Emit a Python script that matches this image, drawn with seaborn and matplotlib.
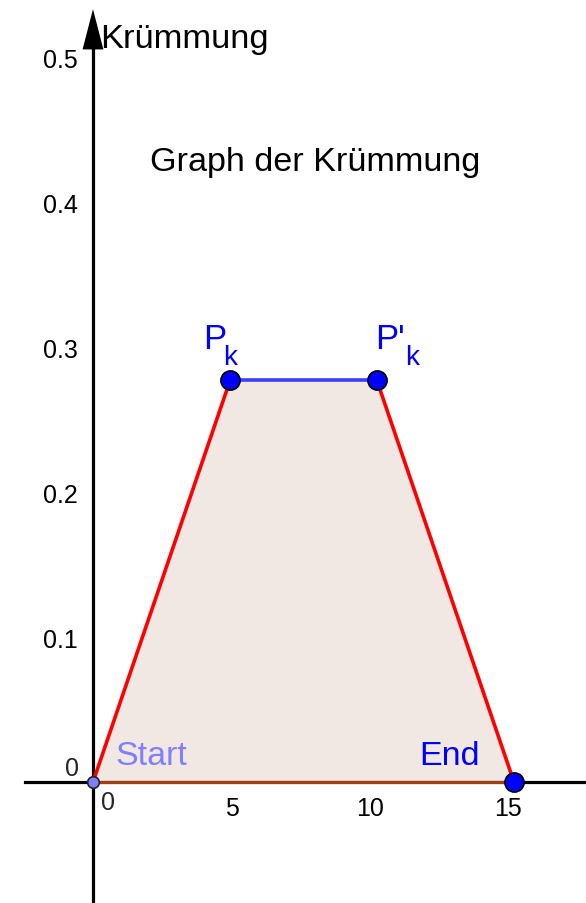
import matplotlib
matplotlib.use("Agg")
import matplotlib.pyplot as plt
import seaborn as sns
import pandas as pd

# ---- data ----
point_names = ["Start", "P_k", "P'_k", "End"]
x_vals = [0.0, 4.95, 10.25, 15.2]
y_vals = [0.0, 0.277, 0.277, 0.0]
x_ticks = [5, 10, 15]
x_tick_labels = ["5", "10", "15"]
y_ticks = [0.1, 0.2, 0.3, 0.4, 0.5]
y_tick_labels = ["0.1", "0.2", "0.3", "0.4", "0.5"]
title_text = "Graph der Krümmung"
y_label_text = "Krümmung"

sns.set_theme(style="white")
plt.rcParams["font.family"] = ["Liberation Sans", "DejaVu Sans"]

W, H = 586, 904
fig = plt.figure(figsize=(W / 100, H / 100), dpi=100)
ax = fig.add_axes([0, 0, 1, 1])
ax.set_xlim(-3.357, 17.80)
ax.set_ylim(-0.0834, 0.540)
ax.set_facecolor("white")

df = pd.DataFrame({"name": point_names, "x": x_vals, "y": y_vals})

# filled polygon
ax.fill(df["x"], df["y"], color="#F2E8E3", zorder=1, lw=0)

# axes lines
for s in ["top", "right"]:
    ax.spines[s].set_visible(False)
ax.spines["left"].set_position(("data", 0))
ax.spines["bottom"].set_position(("data", 0))
ax.spines["left"].set_bounds(-0.0834, 0.51)
ax.spines["bottom"].set_bounds(-2.45, 17.80)
for s in ["left", "bottom"]:
    ax.spines[s].set_linewidth(2.3)
    ax.spines[s].set_color("black")
    ax.spines[s].set_zorder(2)

ax.annotate("", xy=(0, 0.533), xytext=(0, 0.505),
            arrowprops=dict(arrowstyle="-|>,head_length=2.9,head_width=0.75",
                            mutation_scale=10, color="black", lw=0,
                            shrinkA=0, shrinkB=0), zorder=3)

ax.set_xticks(x_ticks, x_tick_labels)
ax.set_yticks(y_ticks, y_tick_labels)
ax.tick_params(axis="both", direction="out", length=4, width=2, color="black",
               labelsize=18, labelcolor="black")
ax.tick_params(axis="x", pad=6)
ax.tick_params(axis="y", pad=7)
ax.grid(False)

# zero labels
ax.text(108 / W, 1 - 803 / H, "0", transform=ax.transAxes, fontsize=18,
        ha="center", va="center")
ax.text(72 / W, 1 - 769 / H, "0", transform=ax.transAxes, fontsize=18,
        ha="center", va="center")

# segments
seg_bottom = df.iloc[[0, 3]]
seg_left = df.iloc[[0, 1]]
seg_top = df.iloc[[1, 2]]
seg_right = df.iloc[[2, 3]]
sns.lineplot(data=seg_bottom, x="x", y="y", sort=False, color="#A04010", lw=2.2, ax=ax, zorder=4)
sns.lineplot(data=seg_left, x="x", y="y", sort=False, color="#FF0000", lw=2.6, ax=ax, zorder=4)
sns.lineplot(data=seg_right, x="x", y="y", sort=False, color="#FF0000", lw=2.6, ax=ax, zorder=4)
sns.lineplot(data=seg_top, x="x", y="y", sort=False, color="#3D3DFF", lw=2.6, ax=ax, zorder=4)

# points
sns.scatterplot(data=df.iloc[[0]], x="x", y="y", color="#7F7FFF", edgecolor="#222222",
                s=70, linewidth=1.2, ax=ax, zorder=5)
sns.scatterplot(data=df.iloc[1:], x="x", y="y", color="#0000FF", edgecolor="black",
                s=190, linewidth=1.2, ax=ax, zorder=5)
ax.set_xlabel("")
ax.set_ylabel("")

# point labels
ax.annotate("P", xy=(x_vals[1], y_vals[1]), xytext=(-27, 32), textcoords="offset pixels",
            fontsize=25, color="#0000FF", ha="left", va="baseline")
ax.annotate("k", xy=(x_vals[1], y_vals[1]), xytext=(-7, 16), textcoords="offset pixels",
            fontsize=20, color="#0000FF", ha="left", va="baseline")
ax.annotate("P'", xy=(x_vals[2], y_vals[2]), xytext=(-2, 32), textcoords="offset pixels",
            fontsize=25, color="#0000FF", ha="left", va="baseline")
ax.annotate("k", xy=(x_vals[2], y_vals[2]), xytext=(28, 16), textcoords="offset pixels",
            fontsize=20, color="#0000FF", ha="left", va="baseline")
ax.annotate("Start", xy=(x_vals[0], y_vals[0]), xytext=(22, 18), textcoords="offset pixels",
            fontsize=24.5, color="#7F7FFF", ha="left", va="baseline")
ax.annotate("End", xy=(x_vals[3], y_vals[3]), xytext=(-95, 18), textcoords="offset pixels",
            fontsize=24.5, color="#0000FF", ha="left", va="baseline")

# texts
ax.text(100 / W, 1 - 48 / H, y_label_text, transform=ax.transAxes, fontsize=24.8,
        ha="left", va="baseline", color="black")
ax.text(150 / W, 1 - 171 / H, title_text, transform=ax.transAxes, fontsize=24.6,
        ha="left", va="baseline", color="black")

fig.savefig("out.png", dpi=100)
